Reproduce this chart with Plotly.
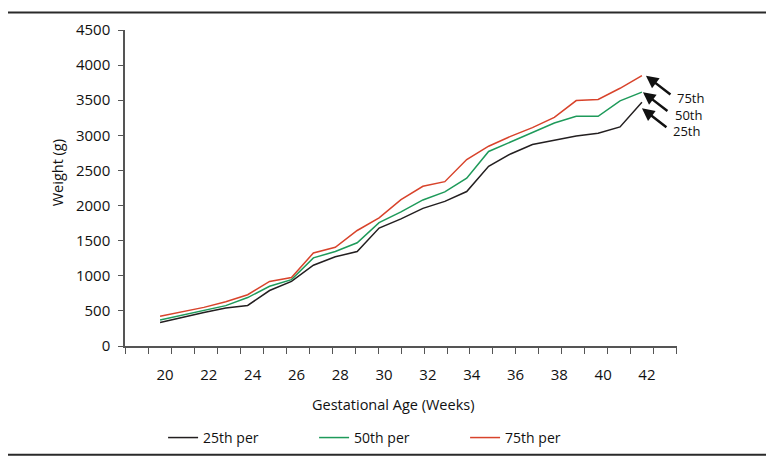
import plotly.graph_objects as go

# gestational age (weeks) and birth weight percentiles (g)
weeks = list(range(20, 43))
p25 = [335, 410, 478, 540, 578, 790, 920, 1150, 1270, 1345, 1680, 1810, 1960, 2060, 2200,
       2560, 2735, 2870, 2935, 2990, 3030, 3120, 3470]
p50 = [370, 440, 508, 575, 690, 850, 945, 1255, 1345, 1470, 1756, 1910, 2080, 2195, 2390,
       2770, 2905, 3040, 3175, 3270, 3270, 3490, 3615]
p75 = [425, 485, 550, 630, 730, 920, 975, 1325, 1405, 1645, 1825, 2085, 2275, 2340, 2655,
       2845, 2985, 3110, 3255, 3495, 3510, 3670, 3850]
tick_weeks = list(range(20, 43, 2))
y_ticks = list(range(0, 4501, 500))

series = [
    ("25th per", p25, "#231f20"),
    ("50th per", p50, "#1e9a5a"),
    ("75th per", p75, "#d8432b"),
]

FONT = "Open Sans"
INK = "#111111"
AXIS = "#555555"

fig = go.Figure()
for name, vals, color in series:
    fig.add_trace(go.Scatter(x=weeks, y=vals, name=name, mode="lines",
                             line=dict(color=color, width=1.5)))

# arrow + label at the end of each curve
arrows = {
    "75th": dict(src=p75, hx=4, hy=0, tx=33, ty=-22),
    "50th": dict(src=p50, hx=1, hy=0, tx=31, ty=-23),
    "25th": dict(src=p25, hx=0, hy=-6, tx=29, ty=-29),
}
for label, a in arrows.items():
    fig.add_annotation(x=weeks[-1], y=a["src"][-1], xref="x", yref="y",
                       text="", showarrow=True, arrowhead=2, arrowsize=1,
                       arrowwidth=2.5, arrowcolor=INK,
                       ax=26, ay=20, xshift=a["hx"], yshift=a["hy"])
    fig.add_annotation(x=weeks[-1], y=a["src"][-1], xref="x", yref="y",
                       text=label, showarrow=False, xanchor="left", yanchor="middle",
                       xshift=a["tx"], yshift=a["ty"],
                       font=dict(family=FONT, size=13, color=INK))

# axis titles
fig.add_annotation(text="Weight (g)", x=-0.1208, y=0.5475, xref="paper", yref="paper",
                   xanchor="center", yanchor="middle", textangle=-90, showarrow=False,
                   font=dict(family=FONT, size=14.5, color=INK))
fig.add_annotation(text="Gestational Age (Weeks)", x=0.4855, y=-0.1847,
                   xref="paper", yref="paper", xanchor="center", yanchor="middle",
                   showarrow=False, font=dict(family=FONT, size=14.5, color=INK))

# outer frame of the figure
fig.add_shape(type="rect", xref="paper", yref="paper",
              x0=-124.0 / 552, x1=(773.0 - 125) / 552,
              y0=(346 - 458.5) / 327, y1=(346 - 1.0) / 327,
              line=dict(color="#2a2a2a", width=2))

fig.update_xaxes(range=[18.399, 43.601], showgrid=False, zeroline=False,
                 showline=True, linecolor=AXIS, linewidth=1.5,
                 tickvals=tick_weeks, ticks="", ticklabelshift=5, ticklabelstandoff=14,
                 tickfont=dict(family=FONT, size=15, color=INK),
                 minor=dict(ticks="outside", ticklen=6, tickwidth=1.3,
                            tickcolor=AXIS, tick0=18.4, dtick=1.05))
fig.update_yaxes(range=[0, 4500], showgrid=False, zeroline=False,
                 showline=True, linecolor=AXIS, linewidth=1.5,
                 tickvals=y_ticks, ticks="outside", ticklen=5, tickwidth=1.3,
                 tickcolor=AXIS, ticklabelstandoff=5,
                 tickfont=dict(family=FONT, size=15, color=INK))

# the page body adds 8px on the left and top, so the margins absorb it
fig.update_layout(
    width=774, height=461,
    margin=dict(l=117, r=105, t=11, b=123),
    plot_bgcolor="white", paper_bgcolor="white",
    showlegend=True,
    legend=dict(orientation="h", x=0.069, xanchor="left", y=-0.291, yanchor="middle",
                entrywidth=106, font=dict(family=FONT, size=14, color=INK),
                bgcolor="rgba(0,0,0,0)"),
)

fig.write_html("out.html")
